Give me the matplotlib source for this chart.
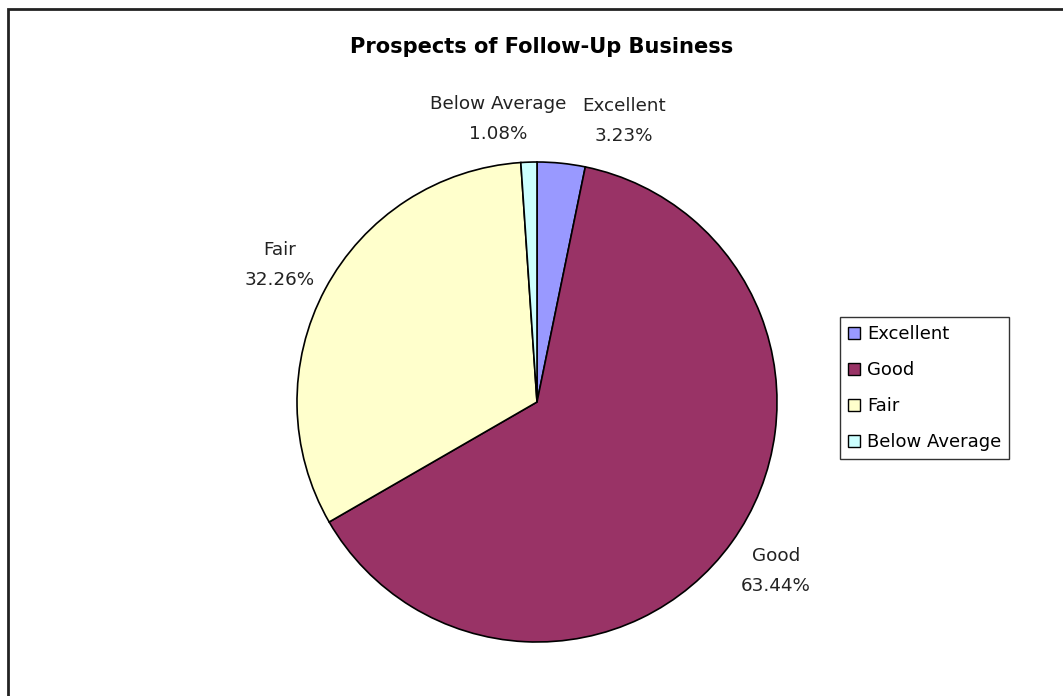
import matplotlib
matplotlib.use("Agg")
import matplotlib.pyplot as plt
from matplotlib.patches import Rectangle, Patch

categories = ["Excellent", "Good", "Fair", "Below Average"]
counts = [3, 59, 30, 1]
colors = ["#9999FF", "#993366", "#FFFFCC", "#CCFFFF"]
title = "Prospects of Follow-Up Business"

W, H = 1063, 696
fig = plt.figure(figsize=(W / 100, H / 100), dpi=100)
fig.patch.set_facecolor("white")

# pixel-based geometry
cx, cy, R = 537, 402, 240
ax = fig.add_axes([0, 0, 1, 1])
wedges, _ = ax.pie(counts, colors=colors, startangle=90, counterclock=False,
                   radius=1, wedgeprops=dict(edgecolor="black", linewidth=1.2))
ax.set_aspect("auto")
ax.set_xlim(-cx / R, (W - cx) / R)
ax.set_ylim(-(H - cy) / R, cy / R)
ax.axis("off")

def px(x, y):
    return ((x - cx) / R, (cy - y) / R)

total = sum(counts)
label_pos = [(624, 121), (776, 571), (280, 265), (498, 119)]
for cat, c, (lx, ly) in zip(categories, counts, label_pos):
    x, y = px(lx, ly)
    ax.text(x, y, f"{cat}\n{100 * c / total:.2f}%", ha="center", va="center",
            fontsize=13.2, color="#222222", linespacing=1.9)

fig.text(542 / W, 1 - 47 / H, title, ha="center", va="center",
         fontsize=15.1, fontweight="bold", color="black")

# outer chart frame
fig.add_artist(Rectangle((7.5 / W, -0.1), 1.2, (H - 9) / H + 0.1,
                         transform=fig.transFigure, fill=False,
                         edgecolor="#222222", linewidth=2))

handles = [Patch(facecolor=c, edgecolor="black", linewidth=1) for c in colors]
leg = fig.legend(handles, categories, loc="upper left",
                 bbox_to_anchor=(840 / W, 1 - 317 / H), fontsize=13.0,
                 frameon=True, fancybox=False, shadow=False,
                 handlelength=0.65, handleheight=0.65, handletextpad=0.4,
                 labelspacing=1.0, borderpad=0.45, borderaxespad=0)
leg.get_frame().set_edgecolor("black")
leg.get_frame().set_linewidth(1)

fig.savefig("out.png", dpi=100)
